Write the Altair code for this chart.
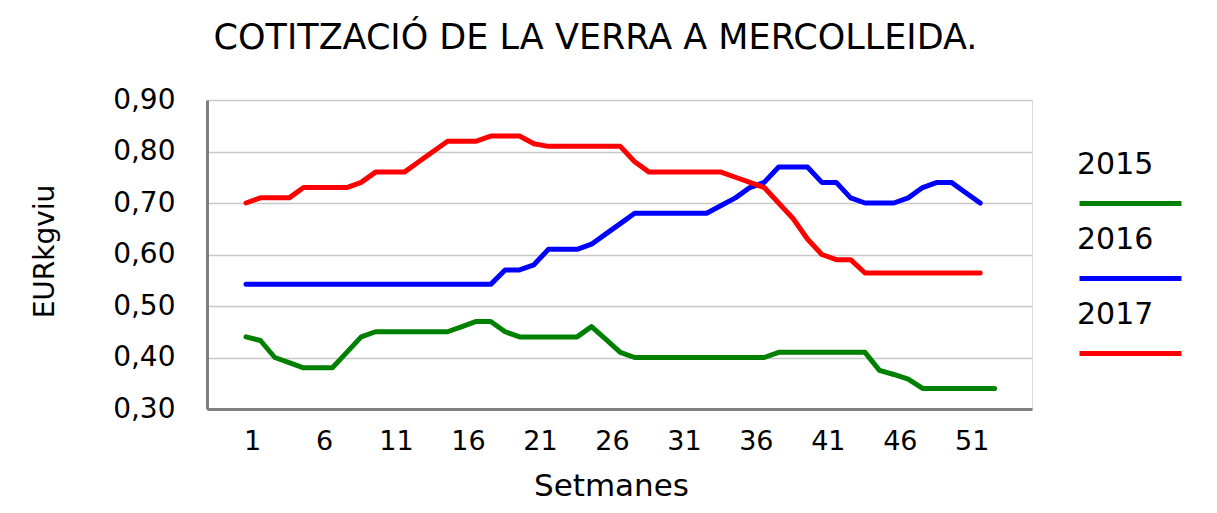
import altair as alt
import pandas as pd

FONT = "DejaVu Sans"

years = ["2015", "2016", "2017"]
colors = ["#008000", "#0000ff", "#ff0000"]

weeks_2015 = list(range(1, 54))
price_2015 = [0.44, 0.433, 0.40, 0.39, 0.38, 0.38, 0.38, 0.41, 0.44, 0.45,
              0.45, 0.45, 0.45, 0.45, 0.45, 0.46, 0.47, 0.47, 0.45, 0.44,
              0.44, 0.44, 0.44, 0.44, 0.46, 0.435, 0.41, 0.40, 0.40, 0.40,
              0.40, 0.40, 0.40, 0.40, 0.40, 0.40, 0.40, 0.41, 0.41, 0.41,
              0.41, 0.41, 0.41, 0.41, 0.375, 0.367, 0.358, 0.34, 0.34, 0.34,
              0.34, 0.34, 0.34]

weeks_2016 = list(range(1, 53))
price_2016 = [0.542, 0.542, 0.542, 0.542, 0.542, 0.542, 0.542, 0.542, 0.542, 0.542,
              0.542, 0.542, 0.542, 0.542, 0.542, 0.542, 0.542, 0.542, 0.57, 0.57,
              0.58, 0.61, 0.61, 0.61, 0.62, 0.64, 0.66, 0.68, 0.68, 0.68,
              0.68, 0.68, 0.68, 0.695, 0.71, 0.73, 0.74, 0.77, 0.77, 0.77,
              0.74, 0.74, 0.71, 0.70, 0.70, 0.70, 0.71, 0.73, 0.74, 0.74,
              0.72, 0.70]

weeks_2017 = list(range(1, 53))
price_2017 = [0.70, 0.71, 0.71, 0.71, 0.73, 0.73, 0.73, 0.73, 0.74, 0.76,
              0.76, 0.76, 0.78, 0.80, 0.82, 0.82, 0.82, 0.83, 0.83, 0.83,
              0.815, 0.81, 0.81, 0.81, 0.81, 0.81, 0.81, 0.78, 0.76, 0.76,
              0.76, 0.76, 0.76, 0.76, 0.75, 0.74, 0.73, 0.70, 0.67, 0.63,
              0.60, 0.59, 0.59, 0.564, 0.564, 0.564, 0.564, 0.564, 0.564, 0.564,
              0.564, 0.564]

x_ticks = [1, 6, 11, 16, 21, 26, 31, 36, 41, 46, 51]
y_ticks = [0.3, 0.4, 0.5, 0.6, 0.7, 0.8, 0.9]

rows = []
for yr, wks, vals in [("2015", weeks_2015, price_2015),
                      ("2016", weeks_2016, price_2016),
                      ("2017", weeks_2017, price_2017)]:
    for w, v in zip(wks, vals):
        rows.append({"week": w, "price": v, "year": yr, "year_lbl": yr})
df = pd.DataFrame(rows)

chart = alt.Chart(df).mark_line(
    strokeWidth=5, strokeCap="round", strokeJoin="round"
).encode(
    x=alt.X("week:Q",
            scale=alt.Scale(domain=[-1.71, 55.6], nice=False, zero=False),
            axis=alt.Axis(values=x_ticks, title="Setmanes", grid=False, ticks=False,
                          labelPadding=19, labelOffset=6, labelFontSize=27, labelFont=FONT,
                          labelColor="black", labelFlush=False,
                          titleFont=FONT, titleFontSize=31, titleFontWeight="normal",
                          titleColor="black", titleX=404, titleY=86,
                          titleBaseline="alphabetic", titleAlign="center",
                          domainColor="#808080", domainWidth=3)),
    y=alt.Y("price:Q",
            scale=alt.Scale(domain=[0.3, 0.9], nice=False, zero=False),
            axis=alt.Axis(values=y_ticks, title="EURkgviu", ticks=False,
                          labelExpr="replace(format(datum.value, '.2f'), '.', ',')",
                          labelPadding=32, labelFontSize=28, labelFont=FONT,
                          labelColor="black",
                          gridColor="#c8c8c8", gridWidth=1.3,
                          titleFont=FONT, titleFontSize=28, titleFontWeight="normal",
                          titleColor="black", titleAngle=270, titleX=-148, titleY=151,
                          titleBaseline="bottom", titleAlign="center",
                          domainColor="#808080", domainWidth=3)),
    color=alt.Color("year:N",
                    scale=alt.Scale(domain=years, range=colors),
                    legend=alt.Legend(orient="none", legendX=908, legendY=88,
                                      title=None, padding=0,
                                      symbolType="M-4,0H4", symbolSize=650,
                                      symbolStrokeWidth=5, labelExpr="''",
                                      labelFontSize=8, rowPadding=49)),
    opacity=alt.Opacity("year_lbl:O",
                        scale=alt.Scale(range=[1, 1, 1]),
                        legend=alt.Legend(orient="none", legendX=840, legendY=50,
                                          title=None, padding=0,
                                          symbolSize=0, symbolStrokeWidth=0,
                                          symbolOpacity=0,
                                          labelOffset=0, labelFont=FONT,
                                          labelFontSize=30, labelColor="black",
                                          rowPadding=45)),
).properties(
    width=825,
    height=309,
    title=alt.Title("COTITZACIÓ DE LA VERRA A MERCOLLEIDA.", font=FONT, fontSize=35,
                    fontWeight="normal", color="black", anchor="middle", dx=-24,
                    offset=2, baseline="alphabetic"),
    autosize=alt.AutoSizeParams(type="none"),
    padding={"left": 199, "top": 92, "right": 170, "bottom": 94},
).configure_view(
    stroke="#999999", strokeWidth=2
).configure(background="white")

chart.save("out.html", embed_options={"renderer": "svg", "actions": False})
